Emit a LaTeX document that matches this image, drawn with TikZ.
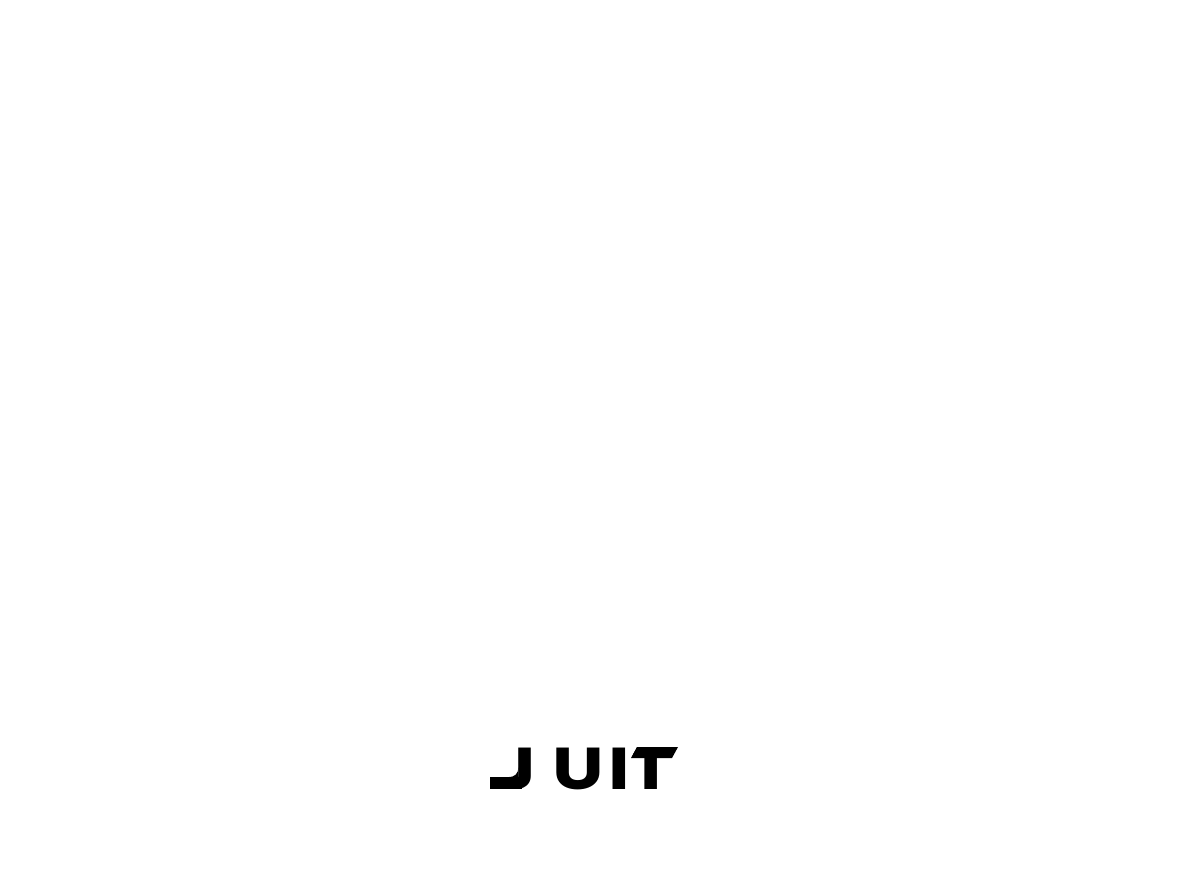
\documentclass[tikz,border=0pt]{standalone}
\usepackage{fontspec}
\usepackage{tikz}
\usetikzlibrary{positioning}
\newfontfamily\logofont{Poppins}[Scale=1.0]
\tikzset{logotext/.style={inner sep=0pt,anchor=base,font=\logofont\bfseries\fontsize{42}{42}\selectfont}}
\begin{document}
\begin{tikzpicture}
\useasboundingbox (0,0) rectangle (29.8,21.9);
\node[logotext,xscale=1.24] (logo) at (14.5875,2.175) {J\kern 9.5pt U\kern 2.3pt I\kern -0.3pt T};
% tail of the J
\fill[white] (12.2,2.475) rectangle (12.95,3.3);
\fill[white] (12.2,2.0) rectangle (13.4,2.175);
\fill (12.25,2.175) rectangle (13.05,2.475);
\fill (12.7,2.47) -- (12.96,2.47) -- (12.96,2.72) .. controls (12.96,2.56) and (12.87,2.47) .. (12.7,2.47) -- cycle;
% slanted bar of the T
\fill[white] (15.7,3.3) -- (15.95,3.3) -- (15.925,3.225) -- (15.775,2.95) -- (15.7,2.95) -- cycle;
\fill (15.925,3.225) -- (16.95,3.225) -- (16.8,2.95) -- (15.775,2.95) -- cycle;
\end{tikzpicture}
\end{document}
